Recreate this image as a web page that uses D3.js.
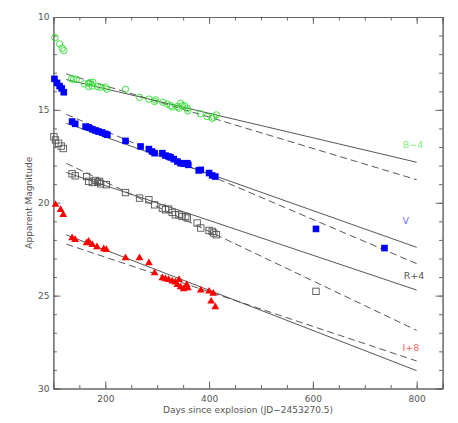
<!doctype html>
<meta charset="UTF-8">
<html>
  <head>
    <script src="https://d3js.org/d3.v7.min.js"></script>
    <style>
      body { margin: 0; background: #fff; }
      text { font-family: 'DejaVu Sans', Arial, sans-serif; }
    </style>
  </head>
  <body>
  </body>
  <script type="text/javascript">

    // [days since explosion, plotted magnitude]
    var bData = [[103,11.11],[112,11.45],[117,11.68],[120,11.81],
      [135,13.33],[139,13.35],[144,13.35],
      [160,13.6],[168,13.56],[171,13.53],[176,13.51],[168,13.75],[175,13.71],
      [185,13.75],[191,13.78],[200,13.78],[203,13.89],
      [239,13.89],[266,14.33],[284,14.42],[295,14.55],[297,14.46],
      [311,14.59],[319,14.68],[326,14.78],[329,14.85],
      [339,14.82],[342,14.91],[345,14.64],[348,14.78],[353,14.78],[358,14.91],[359,15.05],
      [383,15.21],[396,15.36],[406,15.45],[409,15.39],[414,15.27]]

    var vData = [[102,13.33],[107,13.55],[112,13.72],[116,13.85],[120,14.05],
      [136,15.63],[142,15.75],
      [162,15.9],[168,15.95],[175,16.04],[181,16.11],[187,16.17],[194,16.22],[200,16.29],[204,16.34],
      [239,16.67],[268,16.97],[284,17.11],[290,17.24],[295,17.33],
      [310,17.33],[316,17.46],[322,17.51],[326,17.56],[332,17.65],[339,17.78],[345,17.87],[351,17.9],[358,17.87],[360,17.96],
      [380,18.26],[384,18.23],[400,18.4],[406,18.53],[412,18.59],
      [606,21.41],[738,22.44]]

    var rData = [[101,16.45],[104,16.62],[110,16.8],[115,16.95],[119,17.08],
      [136,18.44],[142,18.55],
      [164,18.59],[168,18.85],[175,18.91],[181,18.8],[185,18.89],[189,18.85],[191,18.98],[202,19.03],
      [239,19.45],[266,19.75],[284,19.84],[295,20.11],
      [310,20.29],[316,20.38],[322,20.34],[329,20.52],[335,20.65],[342,20.65],[348,20.74],[355,20.74],[358,20.82],
      [377,21.09],[384,21.36],[400,21.49],[406,21.54],[409,21.63],[414,21.72],
      [606,24.77]]

    var iData = [[104,20.1],[114,20.38],[119,20.65],
      [136,21.9],[142,21.99],
      [164,22.17],[168,22.08],[175,22.26],[184,22.38],[197,22.49],[202,22.53],
      [239,22.97],[266,22.97],[284,23.24],[295,23.78],
      [310,24.05],[316,24.1],[322,24.14],[329,24.23],[335,24.28],[339,24.41],[342,24.14],[345,24.53],[351,24.64],[357,24.41],[359,24.59],
      [384,24.71],[400,24.77],[408,24.89],[404,25.31],[412,25.61]]

    // decline lines: [day, mag] at start and end
    var solidLines = [[[125,13.37],[800,17.82]], [[125,15.72],[800,22.40]], [[125,18.37],[800,24.70]], [[125,21.73],[800,29.04]]]
    var dashedLines = [[[125,13.07],[800,18.76]], [[125,15.24],[800,23.28]], [[125,17.88],[800,26.87]], [[125,22.23],[800,28.52]]]

    var bandLabels = ['B\u22124', 'V', 'R+4', 'I+8']
    var bandLabelPos = [[793,16.89], [779,20.98], [795,23.94], [789,27.82]]

    var xMajor = [200, 400, 600, 800]
    var xMinor = d3.range(100, 851, 50)
    var yMajor = [10, 15, 20, 25, 30]
    var yMinor = d3.range(10, 31, 1)

    width = 458
    height = 423
    left = 53.4
    right = 442.6
    top_ = 17
    bottom = 388.5
    axisColor = '#666'
    textColor = '#555'

    svg = d3.select('body').append('svg')
      .attr('width', width)
      .attr('height', height)

    x = d3.scaleLinear().domain([100, 850]).range([left, right])
    y = d3.scaleLinear().domain([10, 30]).range([top_, bottom])

    styleAxis = function(g){
      g.select('.domain').attr('stroke', axisColor)
      g.selectAll('.tick line').attr('stroke', axisColor)
      g.selectAll('.tick text').attr('fill', textColor).style('font-size', '9px')
    }

    // bottom
    svg.append('g').attr('transform', 'translate(0,' + bottom + ')')
      .call(d3.axisBottom(x).tickValues(xMinor).tickSize(-3.5).tickFormat(''))
      .call(styleAxis)
    svg.append('g').attr('transform', 'translate(0,' + bottom + ')')
      .call(d3.axisBottom(x).tickValues(xMajor).tickSize(-7).tickPadding(7).tickFormat(d3.format('d')))
      .call(styleAxis)
    // top
    svg.append('g').attr('transform', 'translate(0,' + top_ + ')')
      .call(d3.axisTop(x).tickValues(xMinor).tickSize(-3.5).tickFormat(''))
      .call(styleAxis)
    svg.append('g').attr('transform', 'translate(0,' + top_ + ')')
      .call(d3.axisTop(x).tickValues(xMajor).tickSize(-7).tickFormat(''))
      .call(styleAxis)
    // left
    svg.append('g').attr('transform', 'translate(' + left + ',0)')
      .call(d3.axisLeft(y).tickValues(yMinor).tickSize(-3.5).tickFormat(''))
      .call(styleAxis)
    svg.append('g').attr('transform', 'translate(' + left + ',0)')
      .call(d3.axisLeft(y).tickValues(yMajor).tickSize(-7).tickPadding(4).tickFormat(d3.format('d')))
      .call(styleAxis)
    // right
    svg.append('g').attr('transform', 'translate(' + right + ',0)')
      .call(d3.axisRight(y).tickValues(yMinor).tickSize(-3.5).tickFormat(''))
      .call(styleAxis)
    svg.append('g').attr('transform', 'translate(' + right + ',0)')
      .call(d3.axisRight(y).tickValues(yMajor).tickSize(-7).tickFormat(''))
      .call(styleAxis)

    svg.selectAll('.domain').attr('stroke-width', 1)

    // axis titles
    svg.append('text')
      .text('Days since explosion (JD\u22122453270.5)')
      .attr('x', (left + right) / 2)
      .attr('y', 413)
      .attr('text-anchor', 'middle')
      .attr('fill', textColor)
      .style('font-size', '9px')

    svg.append('text')
      .text('Apparent Magnitude')
      .attr('text-anchor', 'middle')
      .attr('fill', textColor)
      .style('font-size', '9px')
      .attr('transform', 'translate(32,' + (top_ + bottom) / 2 + ')rotate(-90)')

    // fit lines
    line = d3.line().x(d => x(d[0])).y(d => y(d[1]))

    svg.selectAll('.solid')
      .data(solidLines)
      .enter()
      .append('path')
      .attr('d', line)
      .attr('fill', 'none')
      .attr('stroke', '#444')
      .attr('stroke-width', 0.9)

    svg.selectAll('.dashed')
      .data(dashedLines)
      .enter()
      .append('path')
      .attr('d', line)
      .attr('fill', 'none')
      .attr('stroke', '#444')
      .attr('stroke-width', 0.9)
      .attr('stroke-dasharray', '7,4')

    // B-4 open circles
    svg.append('g').selectAll('circle')
      .data(bData)
      .enter()
      .append('circle')
      .attr('cx', d => x(d[0]))
      .attr('cy', d => y(d[1]))
      .attr('r', 3.2)
      .attr('fill', 'none')
      .attr('stroke', '#2fe02f')
      .attr('stroke-width', 0.9)

    // V filled squares
    svg.append('g').selectAll('rect')
      .data(vData)
      .enter()
      .append('rect')
      .attr('x', d => x(d[0]) - 3.3)
      .attr('y', d => y(d[1]) - 3.3)
      .attr('width', 6.6)
      .attr('height', 6.6)
      .attr('fill', '#0000ff')

    // R+4 open squares
    svg.append('g').selectAll('rect')
      .data(rData)
      .enter()
      .append('rect')
      .attr('x', d => x(d[0]) - 3.2)
      .attr('y', d => y(d[1]) - 3.2)
      .attr('width', 6.4)
      .attr('height', 6.4)
      .attr('fill', 'none')
      .attr('stroke', '#555')
      .attr('stroke-width', 0.9)

    // I+8 filled triangles
    tri = d3.symbol().type(d3.symbolTriangle).size(26)
    svg.append('g').selectAll('path')
      .data(iData)
      .enter()
      .append('path')
      .attr('d', tri)
      .attr('transform', d => 'translate(' + x(d[0]) + ',' + y(d[1]) + ')')
      .attr('fill', '#ff0000')

    // band labels
    bandColors = ['#7fef7f', '#6a6aff', '#555', '#ff6a6a']
    svg.selectAll('.band')
      .data(bandLabels)
      .enter()
      .append('text')
      .text(d => d)
      .attr('x', (d, i) => x(bandLabelPos[i][0]))
      .attr('y', (d, i) => y(bandLabelPos[i][1]))
      .attr('dy', '0.35em')
      .attr('text-anchor', 'middle')
      .attr('fill', (d, i) => bandColors[i])
      .style('font-size', '9.5px')

  </script>
</html>
